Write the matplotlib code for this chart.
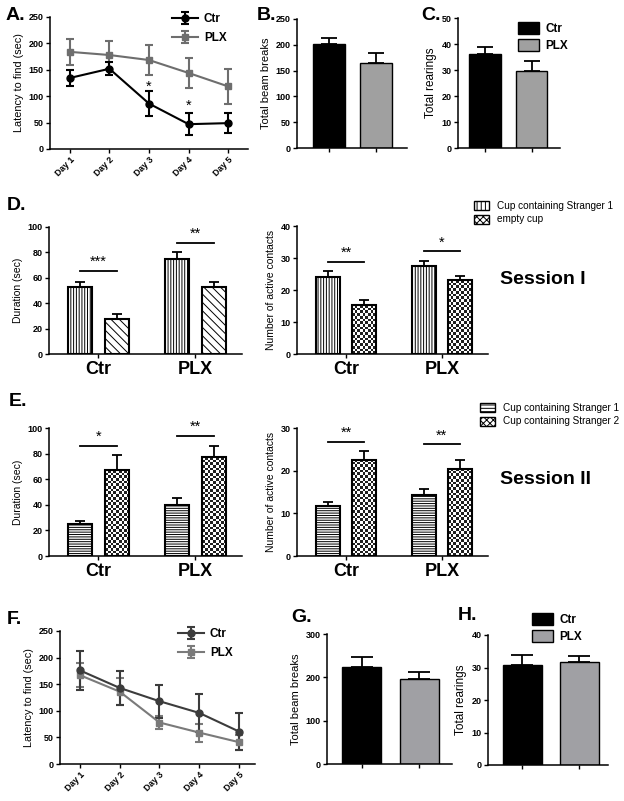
import matplotlib
matplotlib.use('Agg')
import matplotlib.pyplot as plt
import numpy as np
from matplotlib.patches import Patch

plt.rcParams['font.family'] = ['Liberation Sans', 'DejaVu Sans']
plt.rcParams['font.weight'] = 'bold'
plt.rcParams['hatch.linewidth'] = 0.7

# ---- data ----
days = ['Day 1', 'Day 2', 'Day 3', 'Day 4', 'Day 5']
groups = ['Ctr', 'PLX']

a_ctr = [134.5, 152, 86, 47, 49]
a_ctr_err = [14.5, 12, 23, 21, 19]
a_plx = [184, 178, 168.5, 144, 118.5]
a_plx_err = [25, 26, 28, 29, 33]
a_star_day = [2, 3]
a_star_y = [117, 82]

b_vals = [201, 165]
b_err = [12, 19]
c_vals = [36.1, 29.8]
c_err = [2.8, 3.7]

d_dur_s1 = [52.5, 74.5]
d_dur_s1_err = [4, 6]
d_dur_empty = [27.5, 52.5]
d_dur_empty_err = [4, 4]
d_dur_sig = ['***', '**']
d_dur_sig_y = [65.4, 87.6]

d_cnt_s1 = [24.2, 27.6]
d_cnt_s1_err = [1.8, 1.4]
d_cnt_empty = [15.2, 23.1]
d_cnt_empty_err = [1.6, 1.2]
d_cnt_sig = ['**', '*']
d_cnt_sig_y = [28.8, 32.1]

e_dur_s1 = [25, 40]
e_dur_s1_err = [2.5, 5]
e_dur_s2 = [67, 77]
e_dur_s2_err = [12, 9]
e_dur_sig = ['*', '**']
e_dur_sig_y = [86.2, 94]

e_cnt_s1 = [11.8, 14.3]
e_cnt_s1_err = [0.8, 1.4]
e_cnt_s2 = [22.5, 20.5]
e_cnt_s2_err = [2.2, 2.0]
e_cnt_sig = ['**', '**']
e_cnt_sig_y = [26.8, 26.2]

f_ctr = [176, 143, 118, 96, 61]
f_ctr_err = [36, 32, 31, 35, 35]
f_plx = [167, 136, 78, 59, 41]
f_plx_err = [23, 26, 12, 17, 14]

g_vals = [224, 197]
g_err = [22, 15]
h_vals = [30.7, 31.7]
h_err = [3, 1.9]

W, H = 624, 801
fig = plt.figure(figsize=(W / 100, H / 100), dpi=100)


def add_ax(x0, y0, x1, y1):
    ax = fig.add_axes([x0 / W, 1 - y1 / H, (x1 - x0) / W, (y1 - y0) / H])
    ax.spines['top'].set_visible(False)
    ax.spines['right'].set_visible(False)
    ax.spines['left'].set_linewidth(1.1)
    ax.spines['bottom'].set_linewidth(1.1)
    ax.tick_params(direction='out', length=3, width=1, labelsize=6.5, pad=1.5)
    return ax


def fig_legend(ax, handles, labels, x, y, **kw):
    opts = dict(loc='upper left', bbox_to_anchor=(x / W, 1 - y / H),
                bbox_transform=fig.transFigure, frameon=False, borderpad=0)
    opts.update(kw)
    ax.legend(handles, labels, **opts)


def line_panel(ax, ctr, ctr_err, plx, plx_err, c_ctr, c_plx):
    x = np.arange(len(days))
    kw = dict(ms=5, lw=1.5, elinewidth=1.5, capsize=3, capthick=1.5)
    hp = ax.errorbar(x, plx, yerr=plx_err, color=c_plx, marker='s', **kw)
    hc = ax.errorbar(x, ctr, yerr=ctr_err, color=c_ctr, marker='o', **kw)
    ax.set_xticks(x, days, rotation=45, ha='right', rotation_mode='anchor', fontsize=6.3)
    ax.set_ylim(0, 250)
    ax.set_yticks(np.arange(0, 251, 50))
    ax.set_ylabel('Latency to find (sec)', fontsize=7.8, labelpad=3)
    return hc, hp


def pair_panel(ax, vals, err, capsize, ymax, step, plx_color, xlim):
    x = np.arange(2)
    ax.bar(x, vals, width=0.68, color=['black', plx_color], edgecolor='black', lw=1)
    ax.errorbar(x, vals, yerr=[np.zeros(2), err], fmt='none', ecolor='black',
                elinewidth=1.3, capsize=capsize, capthick=1.3)
    ax.set_xticks(x, ['', ''])
    ax.set_xlim(*xlim)
    ax.set_ylim(0, ymax)
    ax.set_yticks(np.arange(0, ymax + 1, step))


def checker(ax, bars, cell=2.7):
    for b in bars:
        x0, y0, w, h = b.get_x(), b.get_y(), b.get_width(), b.get_height()
        p0 = ax.transData.transform((x0, y0))
        p1 = ax.transData.transform((x0 + w, y0 + h))
        nx = max(1, int(round((p1[0] - p0[0]) / cell)))
        ny = max(1, int(round((p1[1] - p0[1]) / cell)))
        grid = np.add.outer(np.arange(ny), np.arange(nx)) % 2
        im = ax.imshow(grid, cmap='gray_r', vmin=0, vmax=1.15, extent=(x0, x0 + w, y0, y0 + h),
                       aspect='auto', interpolation='nearest', zorder=2.5)
        im.set_clip_path(b)


def group_panel(ax, s1, s1_err, s2, s2_err, hatch1, style2, sig, sig_y, ymax, step, ylabel):
    x = np.arange(2)
    off, w = 0.19, 0.25
    xlim = (-0.51, 1.48)
    ax.set_xlim(*xlim)
    ax.set_ylim(0, ymax)
    ax.bar(x - off, s1, w, color='white', edgecolor='black', hatch=hatch1, lw=1.5, zorder=3)
    if style2 == 'checker':
        b2 = ax.bar(x + off, s2, w, facecolor='none', edgecolor='black', lw=1.5, zorder=3)
        checker(ax, b2)
    else:
        ax.bar(x + off, s2, w, color='white', edgecolor='black', hatch=style2, lw=1.5, zorder=3)
    ax.errorbar(x - off, s1, yerr=[np.zeros(2), s1_err], fmt='none', ecolor='black',
                elinewidth=1.3, capsize=3.3, capthick=1.3, zorder=4)
    ax.errorbar(x + off, s2, yerr=[np.zeros(2), s2_err], fmt='none', ecolor='black',
                elinewidth=1.3, capsize=3.3, capthick=1.3, zorder=4)
    for xi, t, y in zip(x, sig, sig_y):
        ax.plot([xi - off, xi + off], [y, y], color='black', lw=1.3)
        ax.text(xi, y + ymax * 0.015, t, ha='center', va='bottom', fontsize=10.5, fontweight='normal')
    ax.set_xticks(x, groups, fontsize=13)
    ax.tick_params(axis='x', pad=2)
    ax.set_xlim(*xlim)
    ax.set_ylim(0, ymax)
    ax.set_yticks(np.arange(0, ymax + 1, step))
    ax.set_ylabel(ylabel, fontsize=7.5, fontweight='normal', labelpad=3)


# ---- A ----
axA = add_ax(50, 17, 248, 149)
hc, hp = line_panel(axA, a_ctr, a_ctr_err, a_plx, a_plx_err, 'black', '#6e6e6e')
axA.set_xlim(-0.5, 4.5)
for d, y in zip(a_star_day, a_star_y):
    axA.text(d, y, '*', ha='center', va='center', fontsize=10.5, fontweight='normal')
fig_legend(axA, [hc, hp], groups, 166, 7, handlelength=2.2, handletextpad=0.5,
           labelspacing=0.6, prop={'size': 8.5, 'weight': 'bold'})

# ---- B ----
axB = add_ax(297, 19, 407, 148)
pair_panel(axB, b_vals, b_err, 6, 250, 50, '#a0a0a0', (-0.68, 1.66))
axB.set_ylabel('Total beam breaks', fontsize=8, labelpad=3)

# ---- C ----
axC = add_ax(458, 18, 560, 148)
pair_panel(axC, c_vals, c_err, 6, 50, 10, '#a0a0a0', (-0.58, 1.61))
axC.set_ylabel('Total rearings', fontsize=8.5, labelpad=3)
fig_legend(axC, [Patch(fc='black', ec='black'), Patch(fc='#a0a0a0', ec='black')], groups,
           512, 16, handlelength=1.8, handleheight=1.2, handletextpad=0.5,
           labelspacing=0.35, prop={'size': 8.5, 'weight': 'bold'})

# ---- D ----
axD1 = add_ax(49, 227, 242, 354)
group_panel(axD1, d_dur_s1, d_dur_s1_err, d_dur_empty, d_dur_empty_err, '||||||', '\\\\\\\\',
            d_dur_sig, d_dur_sig_y, 100, 20, 'Duration (sec)')
axD2 = add_ax(297, 226, 488, 354)
group_panel(axD2, d_cnt_s1, d_cnt_s1_err, d_cnt_empty, d_cnt_empty_err, '||||||', 'checker',
            d_cnt_sig, d_cnt_sig_y, 40, 10, 'Number of active contacts')
fig_legend(axD2, [Patch(fc='white', ec='black', hatch='||||'), Patch(fc='white', ec='black', hatch='xxxxx')],
           ['Cup containing Stranger 1', 'empty cup'], 469, 196, handlelength=1.5,
           handleheight=1.0, handletextpad=0.8, labelspacing=0.35, prop={'size': 7.2, 'weight': 'normal'})

# ---- E ----
axE1 = add_ax(49, 428, 242, 556)
group_panel(axE1, e_dur_s1, e_dur_s1_err, e_dur_s2, e_dur_s2_err, '-------', 'checker',
            e_dur_sig, e_dur_sig_y, 100, 20, 'Duration (sec)')
axE2 = add_ax(297, 428, 488, 556)
group_panel(axE2, e_cnt_s1, e_cnt_s1_err, e_cnt_s2, e_cnt_s2_err, '-------', 'checker',
            e_cnt_sig, e_cnt_sig_y, 30, 10, 'Number of active contacts')
fig_legend(axE2, [Patch(fc='white', ec='black', hatch='-----'), Patch(fc='white', ec='black', hatch='xxxxx')],
           ['Cup containing Stranger 1', 'Cup containing Stranger 2'], 475, 398, handlelength=1.5,
           handleheight=1.0, handletextpad=0.8, labelspacing=0.35, prop={'size': 7.2, 'weight': 'normal'})

fig.text(500 / W, 1 - 279 / H, 'Session I', fontsize=14, fontweight='bold', va='center')
fig.text(500 / W, 1 - 479 / H, 'Session II', fontsize=14, fontweight='bold', va='center')

# ---- F ----
axF = add_ax(60, 631, 255, 764)
hc, hp = line_panel(axF, f_ctr, f_ctr_err, f_plx, f_plx_err, '#3c3c3c', '#7a7a7a')
axF.set_xlim(-0.5, 4.4)
fig_legend(axF, [hc, hp], groups, 172, 622, handlelength=2.2, handletextpad=0.5,
           labelspacing=0.6, prop={'size': 8.5, 'weight': 'bold'})

# ---- G ----
axG = add_ax(327, 634, 452, 764)
pair_panel(axG, g_vals, g_err, 8, 300, 100, '#a0a0a4', (-0.61, 1.57))
axG.set_ylabel('Total beam breaks', fontsize=8, labelpad=3)

# ---- H ----
axH = add_ax(488, 635, 608, 765)
pair_panel(axH, h_vals, h_err, 8, 40, 10, '#a0a0a4', (-0.6, 1.5))
axH.set_ylabel('Total rearings', fontsize=8.5, labelpad=3)
fig_legend(axH, [Patch(fc='black', ec='black'), Patch(fc='#a0a0a4', ec='black')], groups,
           526, 607, handlelength=1.8, handleheight=1.2, handletextpad=0.5,
           labelspacing=0.35, prop={'size': 8.5, 'weight': 'bold'})

# ---- panel letters ----
letters = ['A.', 'B.', 'C.', 'D.', 'E.', 'F.', 'G.', 'H.']
letter_xy = [(6, 15), (257, 15), (421, 15), (7, 206), (9, 401), (7, 620), (291, 618), (458, 615)]
for t, (x, y) in zip(letters, letter_xy):
    fig.text(x / W, 1 - y / H, t, fontsize=14, fontweight='bold', va='center', ha='left')

fig.savefig('out.png', dpi=100)
